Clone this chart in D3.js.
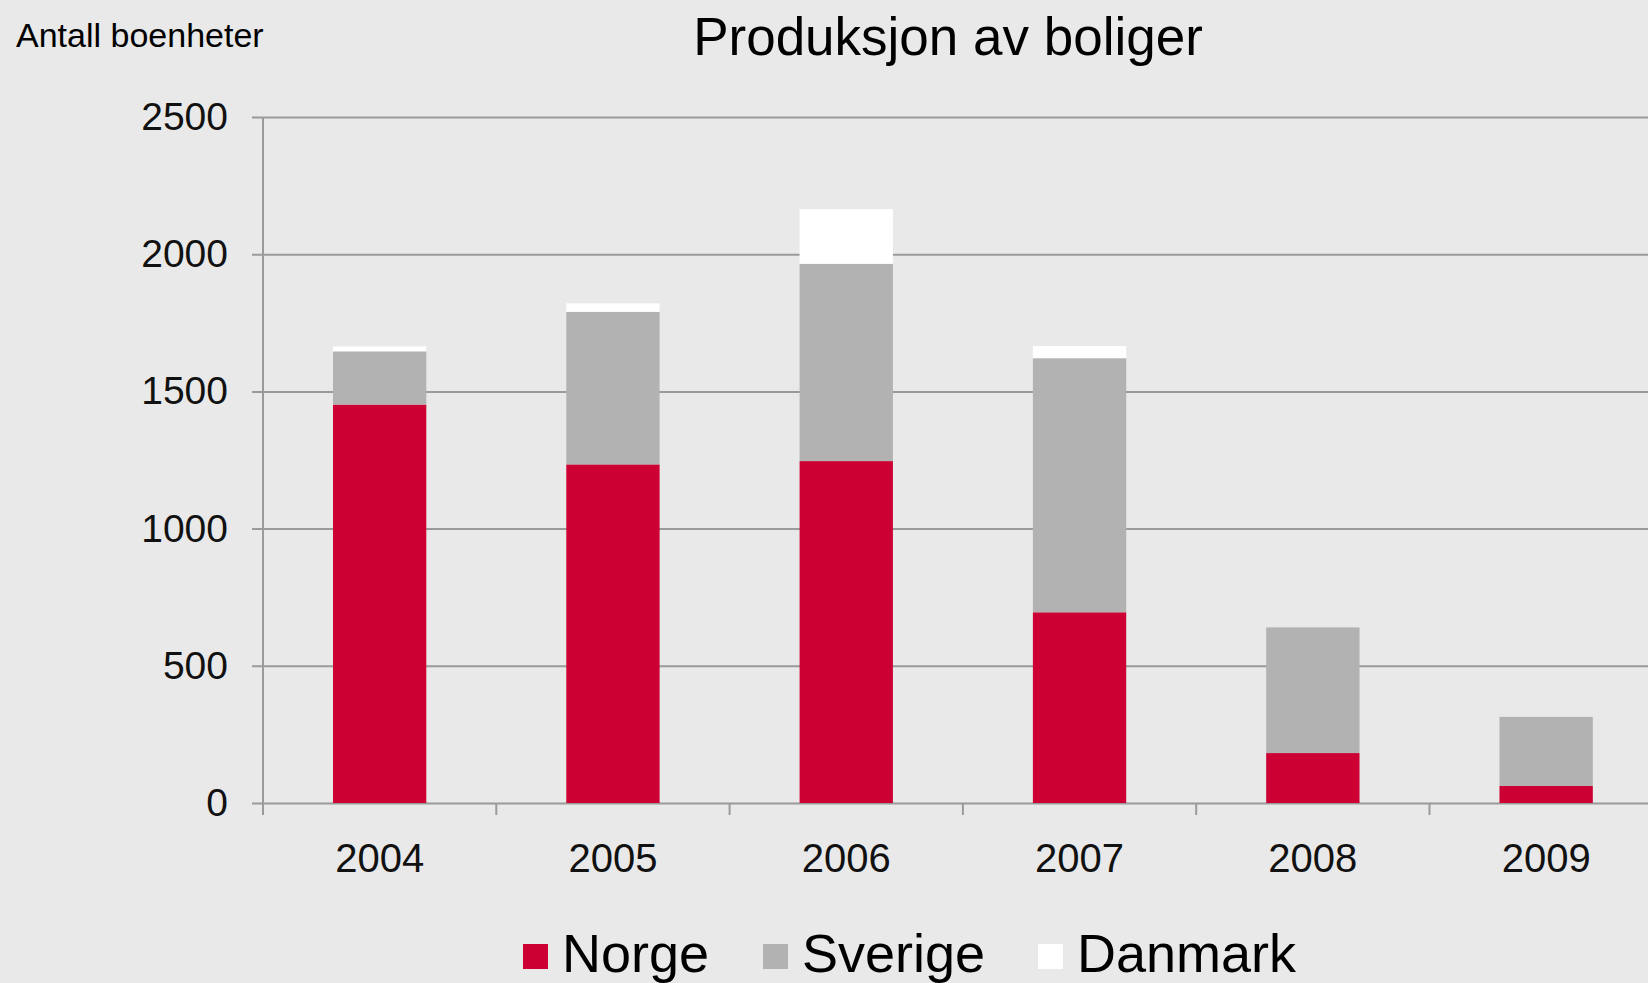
<!DOCTYPE html>
<head>
    <title>Produksjon av boliger</title>
    <script src="https://d3js.org/d3.v7.min.js"></script>
</head>
<style>
body {
  margin: 0;
  font-family: "Liberation Sans", Arial, Helvetica, sans-serif;
}
</style>
<body>
    <svg></svg>
</body>

<script>

    // Data
    var years = ["2004", "2005", "2006", "2007", "2008", "2009"];
    var norge = [1452, 1234, 1246, 695, 182, 62];
    var sverige = [194, 556, 719, 926, 458, 252];
    var danmark = [18, 31, 199, 44, 0, 0];
    var seriesNames = ["Norge", "Sverige", "Danmark"];
    var seriesColors = ["#cc0033", "#b2b2b2", "#ffffff"];
    var yTicks = [0, 500, 1000, 1500, 2000, 2500];

    // Variables
    var width = 1648;
    var height = 983;
    var axisX = 263;
    var step = 233.3;

    var svg = d3.select('svg')
        .attr('width', width)
        .attr('height', height);

    svg.append('rect')
        .attr('width', width)
        .attr('height', height)
        .attr('fill', '#e9e9e9');

    var x = d3.scaleBand()
        .domain(years)
        .range([axisX, axisX + step * years.length])
        .paddingInner(0.6)
        .paddingOuter(0.3);

    var y = d3.scaleLinear()
        .domain([0, 2500])
        .range([803, 117]);

    // Gridlines + y labels
    var yAxis = svg.append('g')
        .attr('transform', 'translate(' + (axisX - 11) + ',0)')
        .call(d3.axisLeft(y).tickValues(yTicks).tickFormat(d3.format('d'))
            .tickSize(-(width - axisX + 11)).tickSizeOuter(0).tickPadding(24));
    yAxis.select('.domain').remove();
    yAxis.selectAll('line').attr('stroke', '#9a9a9a').attr('stroke-width', 2);
    yAxis.selectAll('text')
        .style('font-family', '"Liberation Sans", Arial, sans-serif')
        .style('font-size', '39px')
        .attr('fill', '#111');

    // Stacked bars
    var rows = years.map(function (yr, i) {
        return { year: yr, Norge: norge[i], Sverige: sverige[i], Danmark: danmark[i] };
    });
    var stack = d3.stack().keys(seriesNames)(rows);

    svg.append('g').selectAll('g')
        .data(stack)
        .enter().append('g')
        .attr('fill', function (d, i) { return seriesColors[i]; })
        .selectAll('rect')
        .data(function (d) { return d; })
        .enter().append('rect')
        .attr('x', function (d) { return x(d.data.year); })
        .attr('width', x.bandwidth())
        .attr('y', function (d) { return y(d[1]); })
        .attr('height', function (d) { return y(d[0]) - y(d[1]); });

    // Y axis line
    svg.append('line')
        .attr('x1', axisX).attr('x2', axisX)
        .attr('y1', y(2500)).attr('y2', y(0) + 12)
        .attr('stroke', '#9a9a9a').attr('stroke-width', 2);

    // Category boundary ticks
    svg.append('g').selectAll('line')
        .data(d3.range(years.length + 1))
        .enter().append('line')
        .attr('x1', function (i) { return x.range()[0] + i * x.step(); })
        .attr('x2', function (i) { return x.range()[0] + i * x.step(); })
        .attr('y1', y(0))
        .attr('y2', y(0) + 12)
        .attr('stroke', '#9a9a9a').attr('stroke-width', 2);

    // X labels
    var xAxis = svg.append('g')
        .attr('transform', 'translate(0,' + y(0) + ')')
        .call(d3.axisBottom(x).tickSize(0).tickPadding(41));
    xAxis.select('.domain').remove();
    xAxis.selectAll('text')
        .style('font-family', '"Liberation Sans", Arial, sans-serif')
        .style('font-size', '40px')
        .attr('fill', '#111');

    // Titles
    svg.append('text')
        .attr('x', 948).attr('y', 55)
        .attr('text-anchor', 'middle')
        .style('font-size', '53px')
        .text('Produksjon av boliger');

    svg.append('text')
        .attr('x', 16).attr('y', 47)
        .style('font-size', '34px')
        .text('Antall boenheter');

    // Legend
    var legendX = [523, 763, 1038];
    var legend = svg.append('g').selectAll('g')
        .data(seriesNames)
        .enter().append('g')
        .attr('transform', function (d, i) { return 'translate(' + legendX[i] + ',944)'; });
    legend.append('rect')
        .attr('width', 25).attr('height', 25)
        .attr('fill', function (d, i) { return seriesColors[i]; });
    legend.append('text')
        .attr('x', 39).attr('y', 28)
        .style('font-size', '54px')
        .text(function (d) { return d; });

</script>
